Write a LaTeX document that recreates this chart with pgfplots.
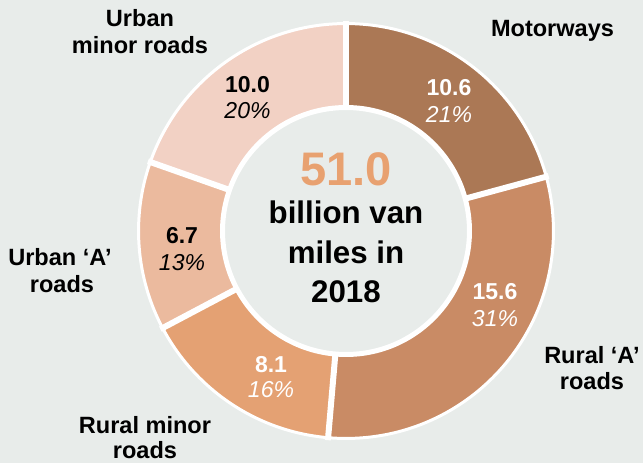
\documentclass[border=0pt]{standalone}
\usepackage{fontspec}
\setmainfont{Liberation Sans}
\usepackage{pgfplots}
\pgfplotsset{compat=1.18}
\usepackage{pgfplotstable}

\definecolor{bg}{HTML}{E8ECEA}
\definecolor{wedge0}{HTML}{AB7855}
\definecolor{wedge1}{HTML}{C98B65}
\definecolor{wedge2}{HTML}{E4A173}
\definecolor{wedge3}{HTML}{EBBA9E}
\definecolor{wedge4}{HTML}{F2D1C4}
\definecolor{total}{HTML}{E8A170}

% billion van miles, clockwise from the top
\pgfplotstableread{
value
10.6
15.6
8.1
6.7
10.0
}\vanmiles

\begin{document}
\begin{tikzpicture}[
    lab/.style={font=\fontsize{13.4}{16}\selectfont\bfseries, anchor=base, inner sep=0pt},
    val/.style={font=\fontsize{13.1}{16}\selectfont\bfseries, anchor=base, inner sep=0pt},
    pct/.style={font=\fontsize{13.1}{16}\selectfont\itshape, anchor=base, inner sep=0pt},
    mid/.style={font=\fontsize{17.8}{21}\selectfont\bfseries, anchor=base, inner sep=0pt},
]
\pgfmathsetmacro\total{0}
\pgfplotsforeachungrouped \i in {0,...,4}{%
  \pgfplotstablegetelem{\i}{value}\of\vanmiles
  \pgfmathsetmacro\total{\total+\pgfplotsretval}%
}
\pgfmathsetmacro\cum{0}
\pgfplotsforeachungrouped \i in {0,...,4}{%
  \pgfplotstablegetelem{\i}{value}\of\vanmiles
  \pgfmathsetmacro\wa{90-\cum/\total*360}%
  \pgfmathsetmacro\cum{\cum+\pgfplotsretval}%
  \pgfmathsetmacro\wb{90-\cum/\total*360}%
  \expandafter\let\csname wa\i\endcsname\wa
  \expandafter\let\csname wb\i\endcsname\wb
}
\begin{axis}[
    x=0.02cm, y=0.02cm, y dir=reverse,
    xmin=0, xmax=643, ymin=0, ymax=463,
    scale only axis, hide axis, clip=false,
]
\fill[bg] (axis cs:0,0) rectangle (axis cs:643,463);
\pgfplotsinvokeforeach{0,...,4}{
  \fill[wedge#1] (axis cs:346,231) -- ++(\csname wa#1\endcsname:4.15cm)
    arc[start angle=\csname wa#1\endcsname, end angle=\csname wb#1\endcsname, radius=4.15cm] -- cycle;
}
\pgfplotsinvokeforeach{0,...,4}{
  \draw[white, line width=0.12cm] (axis cs:346,231) -- ++(\csname wa#1\endcsname:4.2cm);
}
\draw[white, line width=0.06cm] (axis cs:346,231) circle[radius=4.15cm];
\filldraw[fill=bg, draw=white, line width=0.1cm] (axis cs:346,231) circle[radius=2.47cm];

\node[lab] at (axis cs:140,27) {Urban};
\node[lab] at (axis cs:140,53) {minor roads};
\node[lab] at (axis cs:552.5,36) {Motorways};
\node[lab] at (axis cs:60,265) {Urban ‘A’};
\node[lab] at (axis cs:62,292) {roads};
\node[lab] at (axis cs:592,363) {Rural ‘A’};
\node[lab] at (axis cs:592,389) {roads};
\node[lab] at (axis cs:145,433) {Rural minor};
\node[lab] at (axis cs:145,458) {roads};

\node[val, white] at (axis cs:449,95) {10.6};
\node[pct, white] at (axis cs:449,122) {21\%};
\node[val] at (axis cs:247.5,92) {10.0};
\node[pct] at (axis cs:247.5,118) {20\%};
\node[val] at (axis cs:182,243) {6.7};
\node[pct] at (axis cs:182,270) {13\%};
\node[val, white] at (axis cs:495,299) {15.6};
\node[pct, white] at (axis cs:495,326) {31\%};
\node[val, white] at (axis cs:271,372) {8.1};
\node[pct, white] at (axis cs:271,397) {16\%};

\node[anchor=base, inner sep=0pt, font=\fontsize{26.8}{30}\selectfont\bfseries, text=total] at (axis cs:346,185) {51.0};
\node[mid] at (axis cs:346,223) {billion van};
\node[mid] at (axis cs:346,263) {miles in};
\node[mid] at (axis cs:346,302) {2018};
\end{axis}
\end{tikzpicture}
\end{document}
